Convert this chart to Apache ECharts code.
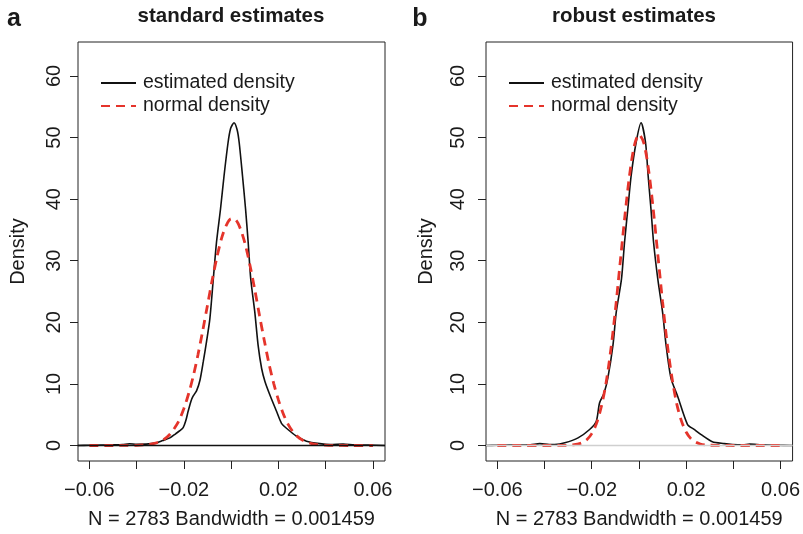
<!DOCTYPE html>
<html><head><meta charset="utf-8">
<script src="https://cdn.jsdelivr.net/npm/echarts@6/dist/echarts.min.js"></script>
<style>html,body{margin:0;padding:0;background:#fff}#c{width:803px;height:534px}</style>
</head><body><div id="c"></div>
<script>
// ---- labels / ticks ----
const xTicks = [-0.06, -0.04, -0.02, 0, 0.02, 0.04, 0.06];
const xLabelVals = [-0.06, -0.02, 0.02, 0.06];
const yTicks = [0, 10, 20, 30, 40, 50, 60];
const panelTitles = ['standard estimates', 'robust estimates'];
const panelLetters = ['a', 'b'];
const xAxisTitle = 'N = 2783 Bandwidth = 0.001459';
const yAxisTitle = 'Density';
const seriesNames = ['estimated density', 'normal density'];

// ---- panel a: estimated density (black) ----
const estXA = [-0.065,-0.060,-0.055,-0.050,-0.046,-0.043,-0.040,-0.036,-0.0316,-0.0290,-0.0259,-0.0235,-0.0217,-0.0203,-0.0192,-0.0182,-0.0170,-0.0161,-0.0146,-0.0132,-0.0118,-0.0104,-0.0090,-0.0076,-0.0062,-0.0045,-0.0030,-0.0013,-0.0002,0.0012,0.0025,0.0034,0.0048,0.0061,0.0072,0.0083,0.0100,0.0114,0.0129,0.0143,0.0164,0.0192,0.0213,0.0234,0.0277,0.0319,0.0375,0.042,0.0474,0.052,0.058,0.065];
const estYA = [0.0,0.03,0.06,0.1,0.15,0.28,0.2,0.22,0.44,0.8,1.24,1.9,2.4,2.9,4.0,5.55,7.2,8.0,8.9,10.6,13.6,16.9,20.6,26.8,33.0,38.4,43.8,49.2,51.5,52.4,51.3,49.2,43.8,38.4,33.0,27.0,21.7,16.3,12.5,10.4,8.2,5.55,3.6,2.8,1.5,0.7,0.3,0.15,0.25,0.1,0.05,0.0];
// ---- panel a: normal density (red dashed) ----
const normXA = [-0.060,-0.050,-0.044,-0.040,-0.036,-0.034,-0.032,-0.030,-0.028,-0.026,-0.024,-0.022,-0.020,-0.018,-0.016,-0.014,-0.012,-0.010,-0.008,-0.006,-0.004,-0.002,0.000,0.002,0.004,0.006,0.008,0.010,0.012,0.014,0.016,0.018,0.020,0.022,0.024,0.026,0.028,0.030,0.032,0.034,0.036,0.040,0.044,0.050,0.060];
const normYA = [0,0,0.01,0.03,0.12,0.22,0.39,0.67,1.1,1.78,2.8,4.1,6.0,8.4,11.3,14.8,18.7,22.8,26.9,30.6,33.7,35.8,36.8,36.6,35.1,32.6,29.2,25.3,21.1,17.1,13.3,10.1,7.4,5.2,3.5,2.3,1.48,0.91,0.54,0.31,0.17,0.05,0.01,0,0];

// ---- panel b: estimated density (black) ----
const estXB = [-0.065,-0.060,-0.055,-0.050,-0.046,-0.042,-0.038,-0.0357,-0.0314,-0.0258,-0.0209,-0.0181,-0.0167,-0.0148,-0.0132,-0.0110,-0.0096,-0.0074,-0.0061,-0.0047,-0.0033,-0.0012,0.0009,0.0028,0.0039,0.0051,0.0062,0.0080,0.0100,0.0115,0.0136,0.0164,0.0206,0.0234,0.0262,0.0311,0.0361,0.0396,0.044,0.047,0.052,0.058,0.065];
const estYB = [0.0,0.03,0.05,0.08,0.12,0.3,0.15,0.16,0.44,1.24,2.6,3.9,6.9,8.5,10.9,16.3,21.7,27.0,33.0,38.4,43.8,49.2,52.4,49.2,43.8,38.4,33.0,27.0,21.7,16.3,10.9,8.0,3.4,2.6,1.8,0.6,0.3,0.16,0.1,0.22,0.1,0.04,0.0];
// ---- panel b: normal density (red dashed) ----
const normXB = [-0.060,-0.050,-0.040,-0.034,-0.030,-0.028,-0.026,-0.024,-0.022,-0.020,-0.018,-0.016,-0.014,-0.012,-0.010,-0.008,-0.006,-0.004,-0.002,0.000,0.002,0.004,0.006,0.008,0.010,0.012,0.014,0.016,0.018,0.020,0.022,0.024,0.026,0.028,0.030,0.034,0.040,0.050,0.060];
const normYB = [0,0,0,0.004,0.03,0.09,0.21,0.46,0.97,1.92,3.55,6.2,10.0,15.3,21.9,29.5,37.1,43.8,48.6,50.5,49.2,45.0,38.6,31.0,23.4,16.5,11.0,6.8,4.0,2.19,1.12,0.55,0.24,0.1,0.04,0.01,0,0,0];

const FONT = '"Liberation Sans", Arial, Helvetica, sans-serif';
const RED = '#e5342b';
const zip = (xs, ys) => xs.map((x, i) => [x, ys[i]]);
const fmtX = v => (v < 0 ? '\u2212' : '') + Math.abs(v).toFixed(2);

const grids = [
  { left: 78, top: 42, width: 307, height: 421 },
  { left: 486, top: 42, width: 307, height: 421 }
];

function xAxisFor(i) {
  return {
    type: 'value', gridIndex: i, min: -0.0648, max: 0.0651, position: 'bottom',
    splitLine: { show: false },
    axisLine: { show: false, onZero: false },
    axisTick: { show: true, length: 8, customValues: xTicks, lineStyle: { color: '#222', width: 1 } },
    axisLabel: { customValues: xLabelVals, formatter: fmtX, margin: 19, color: '#1a1a1a', fontSize: 20, fontFamily: FONT },
    name: xAxisTitle, nameLocation: 'middle', nameGap: 48,
    nameTextStyle: { color: '#1a1a1a', fontSize: 20, fontFamily: FONT }
  };
}
function yAxisFor(i, margin) {
  return {
    type: 'value', gridIndex: i, min: -2.52, max: 65.52, position: 'left',
    splitLine: { show: false },
    axisLine: { show: false, onZero: false },
    axisTick: { show: true, length: 8, customValues: yTicks, lineStyle: { color: '#222', width: 1 } },
    axisLabel: { customValues: yTicks, rotate: 90, margin: margin, color: '#1a1a1a', fontSize: 20, fontFamily: FONT },
    name: yAxisTitle, nameLocation: 'middle', nameGap: 50, nameRotate: 90,
    nameTextStyle: { color: '#1a1a1a', fontSize: 20, fontFamily: FONT }
  };
}

function panelSeries(i, est, norm, zeroColor) {
  return [
    {
      name: seriesNames[0], type: 'line', xAxisIndex: i, yAxisIndex: i,
      data: est, showSymbol: false, symbol: 'none', smooth: 0.25,
      lineStyle: { color: '#111', width: 1.6 }, itemStyle: { color: '#111' },
      markLine: {
        silent: true, symbol: ['none', 'none'], label: { show: false },
        lineStyle: { color: zeroColor, width: 1.4, type: 'solid' },
        data: [{ yAxis: 0 }]
      },
      z: 3
    },
    {
      name: seriesNames[1], type: 'line', xAxisIndex: i, yAxisIndex: i,
      data: norm, showSymbol: false, symbol: 'none', smooth: 0.3,
      lineStyle: { color: RED, width: 2.8, type: [9, 6] }, itemStyle: { color: RED },
      z: 4
    }
  ];
}

const legendFor = (left) => ({
  orient: 'vertical', left: left, top: 68, itemWidth: 35, itemHeight: 14, itemGap: 3,
  data: seriesNames, selectedMode: false,
  itemStyle: { opacity: 0, borderWidth: 0 },
  textStyle: { fontSize: 19.5, fontFamily: FONT, color: '#1a1a1a', padding: [0, 0, 0, 2] }
});

const textEl = (x, y, text, size, bold) => ({
  type: 'text', x: x, y: y,
  style: { text: text, fontSize: size, fontWeight: bold ? 'bold' : 'normal', fontFamily: FONT,
           fill: '#1a1a1a', align: 'center', verticalAlign: 'middle', textAlign: 'center', textVerticalAlign: 'middle' }
});

const chart = echarts.init(document.getElementById('c'), null, { renderer: 'canvas' });
chart.setOption({
  animation: false,
  backgroundColor: '#fff',
  grid: grids.map(g => Object.assign({ show: true, borderColor: '#222', borderWidth: 1, backgroundColor: 'transparent' }, g)),
  xAxis: [xAxisFor(0), xAxisFor(1)],
  yAxis: [yAxisFor(0, 14), yAxisFor(1, 18)],
  legend: [legendFor(95), legendFor(503)],
  series: [].concat(
    panelSeries(0, zip(estXA, estYA), zip(normXA, normYA), '#111'),
    panelSeries(1, zip(estXB, estYB), zip(normXB, normYB), '#cfcfcf')
  ),
  graphic: [
    textEl(231, 16.5, panelTitles[0], 20.5, true),
    textEl(634, 16.5, panelTitles[1], 20.5, true),
    textEl(14, 19, panelLetters[0], 25, true),
    textEl(420, 19, panelLetters[1], 25, true)
  ]
});
</script>
</body></html>
